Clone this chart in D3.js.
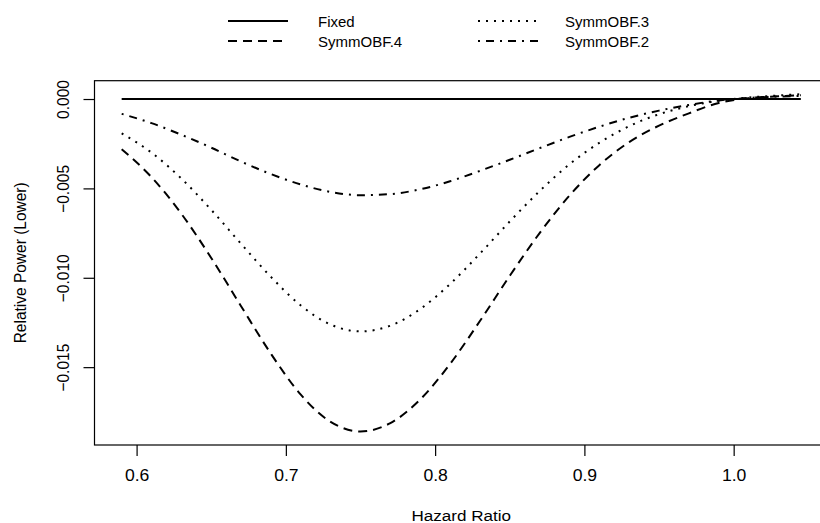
<!doctype html>
<html lang="en">
<head>
<meta charset="utf-8">
<title>Relative Power (Lower)</title>
<script src="https://d3js.org/d3.v7.min.js"></script>
<style>
  body { margin: 0; background: #fff; }
  svg text { font-family: "Liberation Sans", Arial, Helvetica, sans-serif; fill: #000; }
</style>
</head>
<body>
<script>
// hazard ratios and the four curves
var hazard = [0.59, 0.61, 0.63, 0.65, 0.67, 0.69, 0.71, 0.73, 0.75, 0.77, 0.79, 0.81,
              0.83, 0.85, 0.87, 0.89, 0.91, 0.93, 0.95, 0.97, 0.99, 1.01, 1.03, 1.045];
var fixed = [0, 0, 0, 0, 0, 0, 0, 0, 0, 0, 0, 0, 0, 0, 0, 0, 0, 0, 0, 0, 0, 0, 0, 0];
var symmOBF4 = [-0.00281, -0.00437, -0.00642, -0.00889, -0.01159, -0.01425, -0.01654, -0.01806,
                -0.01860, -0.01813, -0.01681, -0.01482, -0.01242, -0.00989, -0.00750, -0.00540,
                -0.00370, -0.00241, -0.00149, -0.00080, -0.00022, 0.00005, 0.00015, 0.00021];
var symmOBF3 = [-0.00192, -0.00300, -0.00445, -0.00620, -0.00810, -0.00995, -0.01155, -0.01262,
                -0.01300, -0.01268, -0.01175, -0.01035, -0.00865, -0.00685, -0.00515, -0.00365,
                -0.00245, -0.00152, -0.00085, -0.00040, -0.00010, 0.00008, 0.00020, 0.00027];
var symmOBF2 = [-0.00083, -0.00135, -0.00200, -0.00272, -0.00350, -0.00420, -0.00478, -0.00520,
                -0.00538, -0.00532, -0.00505, -0.00460, -0.00402, -0.00340, -0.00275, -0.00212,
                -0.00155, -0.00105, -0.00065, -0.00033, -0.00008, 0.00006, 0.00014, 0.00017];

var seriesNames = ["Fixed", "SymmOBF.4", "SymmOBF.3", "SymmOBF.2"];
var xTicks = [0.6, 0.7, 0.8, 0.9, 1.0];
var yTicks = [0, -0.005, -0.010, -0.015];
var xTitle = "Hazard Ratio";
var yTitle = "Relative Power (Lower)";

var width = 820, height = 523;
var plotL = 94.5, plotR = 828, plotT = 80.7, plotB = 445;
var stretch = 1.1; // text in the picture is a bit wide

var series = [fixed, symmOBF4, symmOBF3, symmOBF2];
var dashes = [null, "9,6", "2,6", "2,6,8,6"];

// R-like 4% padding on both axes
function padded(ext) {
	var p = (ext[1] - ext[0]) * 0.04;
	return [ext[0] - p, ext[1] + p];
}
var allY = d3.merge(series);

var x = d3.scaleLinear().domain(padded(d3.extent(hazard))).range([plotL, plotR]);
var y = d3.scaleLinear().domain(padded(d3.extent(allY))).range([plotB, plotT]);

var svg = d3.select("body").append("svg")
	.attr("width", width)
	.attr("height", height)
	.style("display", "block");

// curves
var line = d3.line()
	.x(function(d, i) { return x(hazard[i]); })
	.y(function(d) { return y(d); })
	.curve(d3.curveMonotoneX);

svg.selectAll("path.curve")
	.data(series)
	.enter()
	.append("path")
	.attr("class", "curve")
	.attr("d", line)
	.attr("fill", "none")
	.attr("stroke", "#000")
	.attr("stroke-width", 2)
	.attr("stroke-dasharray", function(d, i) { return dashes[i]; });

// box
svg.append("rect")
	.attr("x", plotL)
	.attr("y", plotT)
	.attr("width", plotR - plotL)
	.attr("height", plotB - plotT)
	.attr("fill", "none")
	.attr("stroke", "#000")
	.attr("stroke-width", 1.2);

// x axis
var gx = svg.append("g")
	.attr("transform", "translate(0," + plotB + ")")
	.call(d3.axisBottom(x).tickValues(xTicks).tickFormat(d3.format(".1f")).tickSize(11).tickSizeOuter(0));
gx.select(".domain").remove();
gx.selectAll(".tick line").attr("stroke", "#000").attr("stroke-width", 1.2);
gx.selectAll(".tick text")
	.attr("font-size", 16)
	.attr("y", 0)
	.attr("dy", 0)
	.attr("transform", "translate(0,36) scale(" + stretch + ",1)");

// y axis
var gy = svg.append("g")
	.attr("transform", "translate(" + plotL + ",0)")
	.call(d3.axisLeft(y).tickValues(yTicks).tickFormat(d3.format(".3f")).tickSize(11).tickSizeOuter(0));
gy.select(".domain").remove();
gy.selectAll(".tick line").attr("stroke", "#000").attr("stroke-width", 1.2);
gy.selectAll(".tick text")
	.attr("font-size", 15.5)
	.attr("x", 0)
	.attr("y", 0)
	.attr("dy", 0)
	.attr("text-anchor", "middle")
	.attr("transform", "translate(-26,0) scale(" + stretch + ",1) rotate(-90)");

// axis titles
svg.append("text")
	.attr("text-anchor", "middle")
	.attr("font-size", 15.5)
	.attr("transform", "translate(" + ((plotL + plotR) / 2) + ",521) scale(" + stretch + ",1)")
	.text(xTitle);

svg.append("text")
	.attr("text-anchor", "middle")
	.attr("font-size", 15.5)
	.attr("transform", "translate(26," + ((plotT + plotB) / 2) + ") scale(" + stretch + ",1) rotate(-90)")
	.text(yTitle);

// legend, two columns filled down
var legend = svg.selectAll("g.legend")
	.data(seriesNames)
	.enter()
	.append("g")
	.attr("class", "legend")
	.attr("transform", function(d, i) {
		var col = Math.floor(i / 2), row = i % 2;
		return "translate(" + (228 + col * 250) + "," + (21 + row * 20) + ")";
	});

legend.append("line")
	.attr("x1", 0)
	.attr("x2", 60)
	.attr("stroke", "#000")
	.attr("stroke-width", 2)
	.attr("stroke-dasharray", function(d, i) { return dashes[i]; });

legend.append("text")
	.attr("font-size", 15)
	.attr("transform", function(d, i) { return "translate(" + (i < 2 ? 90 : 87) + ",5.5)"; })
	.text(function(d) { return d; });
</script>
</body>
</html>
